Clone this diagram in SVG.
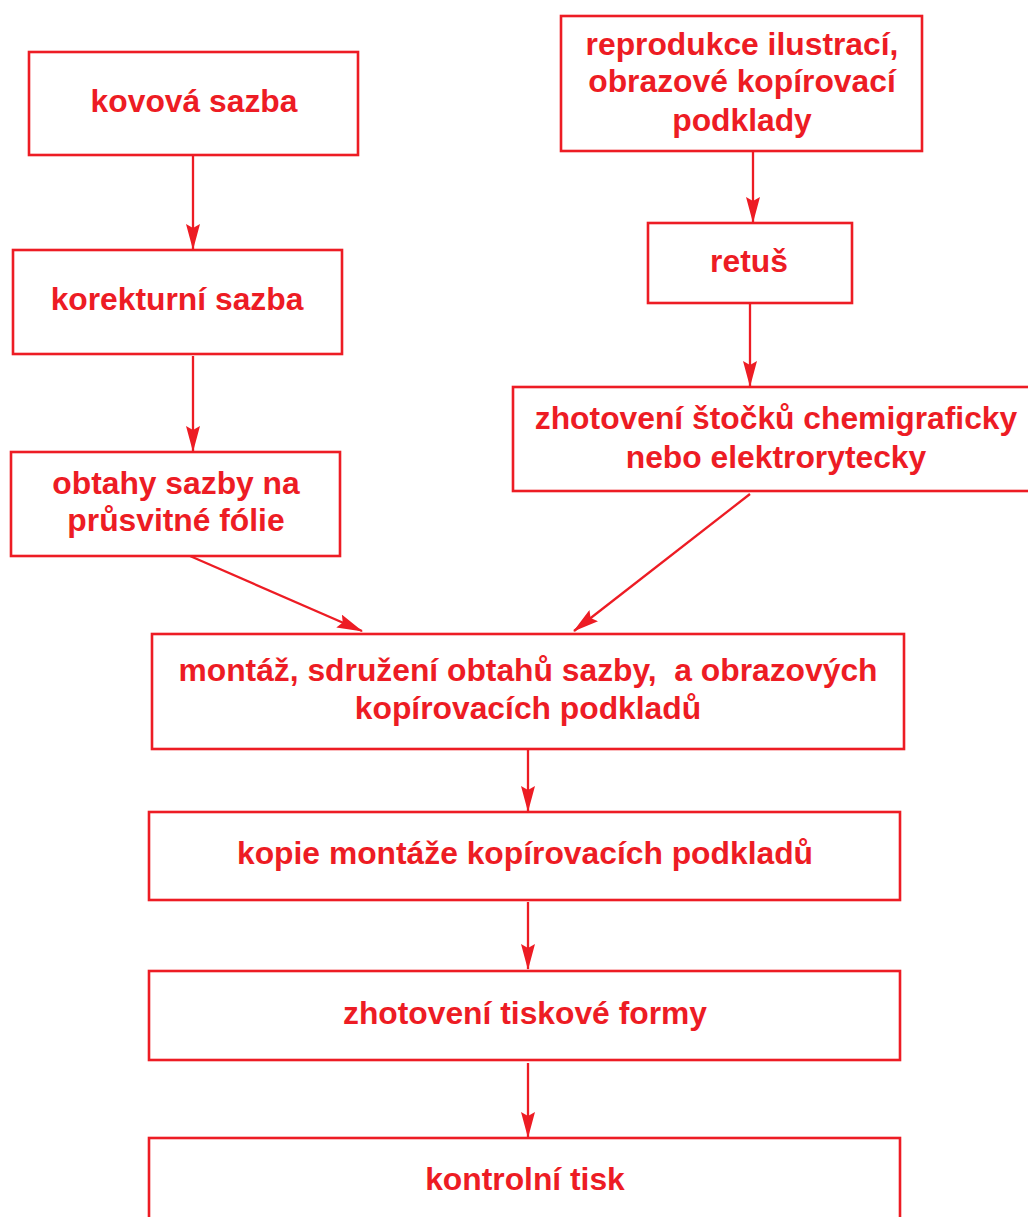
<svg xmlns="http://www.w3.org/2000/svg" width="1028" height="1217" viewBox="0 0 1028 1217">
<style>
.box{fill:#fff;stroke:#ed1c24;stroke-width:2.6}
.t{font-family:"Liberation Sans",Arial,sans-serif;font-weight:bold;font-size:31.8px;fill:#ed1c24;text-anchor:middle;white-space:pre}
.c{stroke:#ed1c24;stroke-width:2.3;fill:none;marker-end:url(#ah)}
</style>
<defs>
<marker id="ah" viewBox="0 0 26 14" refX="25" refY="7" markerWidth="26" markerHeight="14" markerUnits="userSpaceOnUse" orient="auto">
<path d="M0,0 L26,7 L0,14 L4,7 Z" fill="#ed1c24"/>
</marker>
</defs>
<rect width="1028" height="1217" fill="#fff"/>
<g id="connectors">
<line class="c" x1="193" y1="156" x2="193" y2="249"/>
<line class="c" x1="193" y1="356" x2="193" y2="451"/>
<line class="c" x1="753" y1="152" x2="753" y2="222"/>
<line class="c" x1="750" y1="304" x2="750" y2="386"/>
<line class="c" x1="190" y1="556" x2="362" y2="631"/>
<line class="c" x1="750" y1="494" x2="574" y2="631"/>
<line class="c" x1="528" y1="750" x2="528" y2="811"/>
<line class="c" x1="528" y1="902" x2="528" y2="969"/>
<line class="c" x1="528" y1="1063" x2="528" y2="1137"/>
</g>
<g id="n1"><rect class="box" x="29" y="52" width="329" height="103"/><text class="t" x="194" y="112">kovová sazba</text></g>
<g id="n2"><rect class="box" x="13" y="250" width="329" height="104"/><text class="t" x="177" y="310">korekturní sazba</text></g>
<g id="n3"><rect class="box" x="11" y="452" width="329" height="104"/><text class="t" x="176" y="494">obtahy sazby na</text><text class="t" x="176" y="531">průsvitné fólie</text></g>
<g id="n4"><rect class="box" x="561" y="16" width="361" height="135"/><text class="t" x="742" y="55">reprodukce ilustrací,</text><text class="t" x="742" y="92">obrazové kopírovací</text><text class="t" x="742" y="131">podklady</text></g>
<g id="n5"><rect class="box" x="648" y="223" width="204" height="80"/><text class="t" x="749" y="272">retuš</text></g>
<g id="n6"><rect class="box" x="513" y="387" width="520" height="104"/><text class="t" x="776" y="429">zhotovení štočků chemigraficky</text><text class="t" x="776" y="468">nebo elektrorytecky</text></g>
<g id="n7"><rect class="box" x="152" y="634" width="752" height="115"/><text class="t" x="528" y="681">montáž, sdružení obtahů sazby,  a obrazových</text><text class="t" x="528" y="719">kopírovacích podkladů</text></g>
<g id="n8"><rect class="box" x="149" y="812" width="751" height="88"/><text class="t" x="525" y="864">kopie montáže kopírovacích podkladů</text></g>
<g id="n9"><rect class="box" x="149" y="971" width="751" height="89"/><text class="t" x="525" y="1024">zhotovení tiskové formy</text></g>
<g id="n10"><rect class="box" x="149" y="1138" width="751" height="100"/><text class="t" x="525" y="1190">kontrolní tisk</text></g>
</svg>
